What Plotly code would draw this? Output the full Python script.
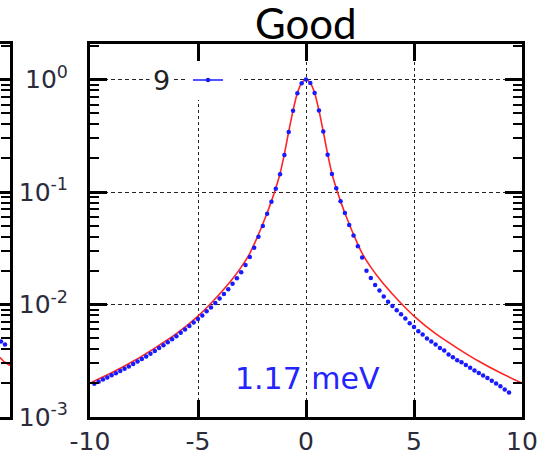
import plotly.graph_objects as go

W, H = 538, 455

# ---------------- data ----------------
fit_x = [-10, -9, -8, -7, -6, -5, -4.5, -4, -3.5, -3, -2.6, -2.2, -2.0, -1.8, -1.6, -1.4,
         -1.2, -1.0, -0.8, -0.6, -0.4, -0.2, 0, 0.2, 0.4, 0.6, 0.8, 1.0, 1.2, 1.4, 1.6, 1.8,
         2.0, 2.2, 2.6, 3, 3.5, 4, 4.5, 5, 6, 7, 8, 9, 10]
fit_y = [0.0020, 0.00247, 0.00313, 0.0041, 0.0055, 0.0079, 0.0098, 0.0124, 0.0160, 0.0215,
         0.0285, 0.042, 0.052, 0.065, 0.083, 0.108, 0.146, 0.218, 0.345, 0.53, 0.76, 0.93,
         1.0, 0.93, 0.76, 0.53, 0.345, 0.218, 0.146, 0.108, 0.083, 0.065, 0.052, 0.042,
         0.0285, 0.0215, 0.0160, 0.0124, 0.0098, 0.0079, 0.0055, 0.0041, 0.00313, 0.00247,
         0.0020]

data_x = [-9.8, -9.6, -9.4, -9.2, -9.0, -8.8, -8.6, -8.4, -8.2, -8.0, -7.8, -7.6, -7.4,
          -7.2, -7.0, -6.8, -6.6, -6.4, -6.2, -6.0, -5.8, -5.6, -5.4, -5.2, -5.0, -4.8,
          -4.6, -4.4, -4.2, -4.0, -3.8, -3.6, -3.4, -3.2, -3.0, -2.8, -2.6, -2.4, -2.2,
          -2.0, -1.8, -1.6, -1.4, -1.2, -1.0, -0.8, -0.6, -0.4, -0.2, 0.0, 0.2, 0.4, 0.6,
          0.8, 1.0, 1.2, 1.4, 1.6, 1.8, 2.0, 2.2, 2.4, 2.6, 2.8, 3.0, 3.2, 3.4, 3.6, 3.8,
          4.0, 4.2, 4.4, 4.6, 4.8, 5.0, 5.2, 5.4, 5.6, 5.8, 6.0, 6.2, 6.4, 6.6, 6.8, 7.0,
          7.2, 7.4, 7.6, 7.8, 8.0, 8.2, 8.4, 8.6, 8.8, 9.0, 9.2, 9.4]
data_y = [0.00198, 0.00206, 0.00215, 0.00225, 0.00235, 0.00245, 0.00256, 0.00268, 0.00281,
          0.00296, 0.00311, 0.00327, 0.00345, 0.00365, 0.00387, 0.00410, 0.00435, 0.00462,
          0.00492, 0.00522, 0.00560, 0.00600, 0.00644, 0.00693, 0.00745, 0.00800, 0.00870,
          0.00940, 0.0103, 0.0113, 0.0124, 0.0137, 0.0153, 0.0171, 0.0194, 0.0224, 0.0265,
          0.0320, 0.0400, 0.0500, 0.0640, 0.0820, 0.107, 0.144, 0.213, 0.342, 0.528, 0.757,
          0.928, 1.0, 0.93, 0.76, 0.53, 0.345, 0.215, 0.145, 0.108, 0.083, 0.065, 0.051,
          0.041, 0.0330, 0.0262, 0.0200, 0.0172, 0.0149, 0.0133, 0.0118, 0.0106, 0.0097,
          0.0089, 0.0082, 0.0075, 0.0068, 0.0063, 0.0058, 0.0054, 0.0050, 0.0047, 0.0044,
          0.0041, 0.0039, 0.0036, 0.0034, 0.0032, 0.00306, 0.00290, 0.00274, 0.00259,
          0.00246, 0.00234, 0.00222, 0.00210, 0.00199, 0.00188, 0.00176, 0.00165]

# sliver of the neighbouring panel at the left edge
nb_fit_x = [0, 4, 10]
nb_fit_y = [0.00338, 0.0031, 0.00287]
nb_data_x = [1, 5]
nb_data_y = [0.00469, 0.0044]

x_ticks = [-10, -5, 0, 5, 10]
x_ticktext = ["-10", "-5", "0", "5", "10"]
y_ticks = [0.001, 0.01, 0.1, 1]
y_ticktext = ["10<sup>-3</sup>", "10<sup>-2</sup>", "10<sup>-1</sup>", "10<sup>0</sup>"]
y_minor = [m * 10 ** e for e in (-3, -2, -1, 0) for m in range(2, 10)]

legend_label = "9"
title_text = "Good"
note_text = "1.17 meV"

BLUE = "#1a1aff"
RED = "#ff2424"
LBL = "#2b2b3b"

# ---------------- figure ----------------
fig = go.Figure()
fig.add_trace(go.Scatter(x=fit_x, y=fit_y, mode="lines",
                         line=dict(color=RED, width=1.6, shape="spline", smoothing=0.8),
                         showlegend=False, hoverinfo="skip"))
fig.add_trace(go.Scatter(x=data_x, y=data_y, mode="markers",
                         marker=dict(color=BLUE, size=4.5, line=dict(width=0)),
                         showlegend=False))
fig.add_trace(go.Scatter(x=[None], y=[None], mode="lines+markers", name=" ",
                         line=dict(color=BLUE, width=1.5),
                         marker=dict(color=BLUE, size=4.5)))
fig.add_trace(go.Scatter(x=nb_fit_x, y=nb_fit_y, mode="lines", xaxis="x2", yaxis="y2",
                         line=dict(color=RED, width=1.6), showlegend=False))
fig.add_trace(go.Scatter(x=nb_data_x, y=nb_data_y, mode="markers", xaxis="x2", yaxis="y2",
                         marker=dict(color=BLUE, size=4.5), showlegend=False))

xdom = [90 / W, 522 / W]
ydom = [38 / H, 411 / H]

common_ticks = dict(ticks="inside", tickcolor="black", tickwidth=2.5, ticklen=17,
                    showline=True, linecolor="black", linewidth=3, zeroline=False,
                    automargin=False)

fig.update_layout(
    width=W, height=H,
    margin=dict(l=0, r=0, t=0, b=0, pad=0),
    paper_bgcolor="white", plot_bgcolor="white",
    showlegend=True,
    legend=dict(x=188 / W, y=1 - 80 / H, xanchor="left", yanchor="middle",
                bgcolor="white", borderwidth=0, font=dict(size=20, family="DejaVu Sans"),
                itemwidth=30, tracegroupgap=0),
    xaxis=dict(domain=xdom, range=[-10, 10], anchor="y",
               tickmode="array", tickvals=x_ticks, ticktext=x_ticktext,
               mirror="allticks", showgrid=True, gridcolor="#222222", gridwidth=1.3,
               griddash="3px,3px",
               tickfont=dict(family="DejaVu Sans", size=25, color=LBL),
               ticklabelstandoff=0, **common_ticks),
    yaxis=dict(domain=ydom, type="log", range=[-3, 0.316], anchor="x",
               tickmode="array", tickvals=y_ticks, ticktext=y_ticktext,
               mirror="allticks", showgrid=True, gridcolor="#222222", gridwidth=1.3,
               griddash="4px,3px",
               minor=dict(tickmode="array", tickvals=y_minor, ticks="inside",
                          ticklen=9, tickwidth=2, tickcolor="black", showgrid=False),
               tickfont=dict(family="DejaVu Sans", size=25, color=LBL),
               ticklabelstandoff=14, **common_ticks),
    xaxis2=dict(domain=[0, 10 / W], range=[0, 10], anchor="y2", showticklabels=False,
                ticks="", showgrid=False, zeroline=False, showline=True,
                linecolor="black", linewidth=3, mirror=True, automargin=False),
    yaxis2=dict(domain=ydom, type="log", range=[-3, 0.316], anchor="x2", side="right",
                tickmode="array", tickvals=y_ticks, showticklabels=False, showgrid=False,
                minor=dict(tickmode="array", tickvals=y_minor, ticks="inside",
                           ticklen=9, tickwidth=2, tickcolor="black"),
                **common_ticks),
    annotations=[
        dict(text=title_text, x=306 / W, y=1 - 23 / H, xref="paper", yref="paper",
             showarrow=False, xanchor="center", yanchor="middle",
             font=dict(family="Lato", size=42, color="black")),
        dict(text=note_text, x=307 / W, y=1 - 378 / H, xref="paper", yref="paper",
             showarrow=False, xanchor="center", yanchor="middle",
             font=dict(family="DejaVu Sans", size=30, color="#2424ff")),
        dict(text=legend_label, x=161 / W, y=1 - 80 / H, xref="paper", yref="paper",
             showarrow=False, xanchor="center", yanchor="middle", bgcolor="white",
             borderpad=3, font=dict(family="DejaVu Sans", size=27, color="#222222")),
    ],
)

fig.write_html("out.html", config={"displayModeBar": False},
               post_script="document.body.style.margin='0px';")
